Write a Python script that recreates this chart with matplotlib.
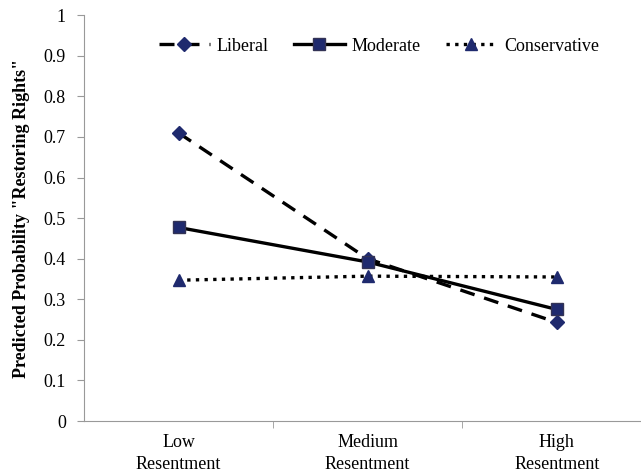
import numpy as np
import matplotlib.pyplot as plt

# Category labels and predicted probabilities
categories = ['Low\nResentment', 'Medium\nResentment', 'High\nResentment']
liberal = [0.71, 0.40, 0.243]
moderate = [0.477, 0.392, 0.275]
conservative = [0.347, 0.357, 0.355]

plt.rcParams['font.family'] = ['Liberation Serif', 'DejaVu Serif']

fig = plt.figure(figsize=(6.41, 4.76), dpi=100)
ax = fig.add_axes([0.131, 0.1155, 0.885, 0.8525])

x = np.arange(len(categories))
navy = '#1f2a6e'

ax.plot(x, liberal, color='black', lw=2.4, dashes=(4.5, 3), marker='D', markersize=7,
        markerfacecolor=navy, markeredgecolor=navy, label='Liberal')
ax.plot(x, moderate, color='black', lw=2.4, marker='s', markersize=9,
        markerfacecolor=navy, markeredgecolor='#333355', label='Moderate')
ax.plot(x, conservative, color='black', lw=2.4, linestyle=(0, (1, 1.6)), marker='^',
        markersize=9, markerfacecolor=navy, markeredgecolor=navy, label='Conservative')

ax.set_xlim(-0.5, 2.5)
ax.set_ylim(0, 1)
ax.set_yticks(np.arange(0, 1.01, 0.1))
ax.set_yticklabels(['0'] + ['%.1f' % v for v in np.arange(0.1, 0.95, 0.1)] + ['1'])
ax.set_xticks(x)
ax.set_xticklabels(categories, linespacing=1.45)
ax.set_xticks([0.5, 1.5], minor=True)
ax.tick_params(axis='x', which='major', length=0, pad=9, labelsize=13)
ax.tick_params(axis='x', which='minor', length=5, color='#999999')
ax.tick_params(axis='y', length=5, color='#999999', labelsize=13, pad=8)

for s in ['top', 'right']:
    ax.spines[s].set_visible(False)
for s in ['left', 'bottom']:
    ax.spines[s].set_color('#999999')

ax.set_ylabel('Predicted Probability "Restoring Rights"', fontweight='bold', fontsize=13, labelpad=10)

ax.legend(loc='upper center', bbox_to_anchor=(0.52, 0.985), ncol=3, frameon=False,
          fontsize=13, handlelength=2.8, columnspacing=1.4, handletextpad=0.4)

plt.savefig('out.png', dpi=100)
